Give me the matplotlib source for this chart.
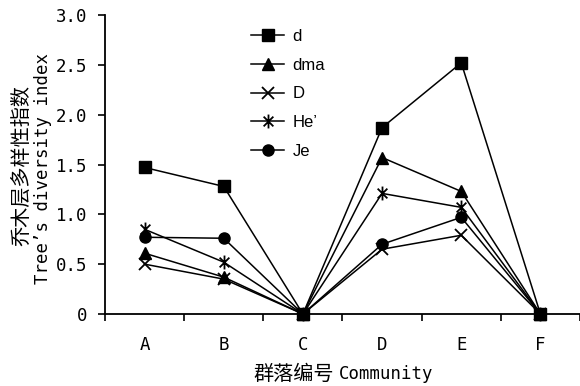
import matplotlib
matplotlib.use("Agg")
import matplotlib.pyplot as plt
import numpy as np
from matplotlib.path import Path

communities = ["A", "B", "C", "D", "E", "F"]
d_vals = [1.47, 1.28, 0.0, 1.87, 2.52, 0.0]
dma_vals = [0.61, 0.37, 0.0, 1.57, 1.23, 0.0]
simpson_vals = [0.50, 0.35, 0.0, 0.65, 0.79, 0.0]
he_vals = [0.85, 0.52, 0.0, 1.21, 1.07, 0.0]
je_vals = [0.77, 0.76, 0.0, 0.70, 0.97, 0.0]
yticks = [0, 0.5, 1.0, 1.5, 2.0, 2.5, 3.0]
ytick_labels = ["0", "0.5", "1.0", "1.5", "2.0", "2.5", "3.0"]

W, H = 580, 386  # figure size in pixels
AX_L, AX_R, AX_T, AX_B = 105, 580, 15, 314  # axes box in pixels


def fx(px):
    return px / W


def fy(py):
    return 1 - py / H


# Excel-style asterisk: an X with a vertical bar
r = 0.7
asterisk = Path(
    [(-r, -r), (r, r), (-r, r), (r, -r), (0, -1), (0, 1)],
    [Path.MOVETO, Path.LINETO, Path.MOVETO, Path.LINETO, Path.MOVETO, Path.LINETO],
)

mono = "DejaVu Sans Mono"
cjk = "Noto Sans CJK SC"

series = [
    ("d", d_vals, dict(marker="s", ms=8.5)),
    ("dma", dma_vals, dict(marker="^", ms=8.5)),
    ("D", simpson_vals, dict(marker="x", ms=8, mew=1.3)),
    ("He\u2019", he_vals, dict(marker=asterisk, ms=10, mew=1.3)),
    ("Je", je_vals, dict(marker="o", ms=8)),
]

fig = plt.figure(figsize=(W / 100, H / 100), dpi=100)
ax = fig.add_axes([fx(AX_L), fy(AX_B), fx(AX_R) - fx(AX_L), fy(AX_T) - fy(AX_B)])

x = np.arange(len(communities))
for label, vals, style in series:
    ax.plot(x, vals, color="black", lw=1.1, mfc="black", mec="black",
            label=label, clip_on=False, zorder=3, **style)

ax.set_xlim(-0.5, len(communities) - 0.5)
ax.set_ylim(0, 3.0)

# category labels centred, tick marks on the boundaries
ax.set_xticks(x)
ax.set_xticklabels(communities, family=mono, fontsize=12.5)
ax.tick_params(axis="x", which="major", length=0, pad=16)
ax.set_xticks(np.arange(-0.5, len(communities) + 0.5), minor=True)
ax.tick_params(axis="x", which="minor", length=5, width=1.2, direction="out")

ax.set_yticks(yticks)
ax.set_yticklabels(ytick_labels, family=mono, fontsize=12.5)
ax.tick_params(axis="y", length=5, width=1.2, direction="out", pad=8)

for side in ("top", "right"):
    ax.spines[side].set_visible(False)
for side in ("left", "bottom"):
    ax.spines[side].set_linewidth(1.3)

# axis titles: CJK and Latin parts set separately to mimic the SimHei widths
fig.text(fx(334), fy(374), "群落编号", family=cjk, fontsize=14.5,
         ha="right", va="center")
fig.text(fx(339), fy(374), "Community", family=mono, fontsize=12.5,
         ha="left", va="center")
fig.text(fx(22), fy(166), "乔木层多样性指数", family=cjk, fontsize=14.5,
         rotation=90, ha="center", va="center")
fig.text(fx(43), fy(168), "Tree\u2019s diversity index", family=mono,
         fontsize=12.5, rotation=90, ha="center", va="center")

leg_x = (236 - AX_L) / (AX_R - AX_L)
ax.legend(loc="upper left", bbox_to_anchor=(leg_x, 1.003),
          frameon=False, prop={"family": "Liberation Sans", "size": 12},
          handlelength=2.0, labelspacing=0.82, handletextpad=0.5)

fig.savefig("out.png", dpi=100)
